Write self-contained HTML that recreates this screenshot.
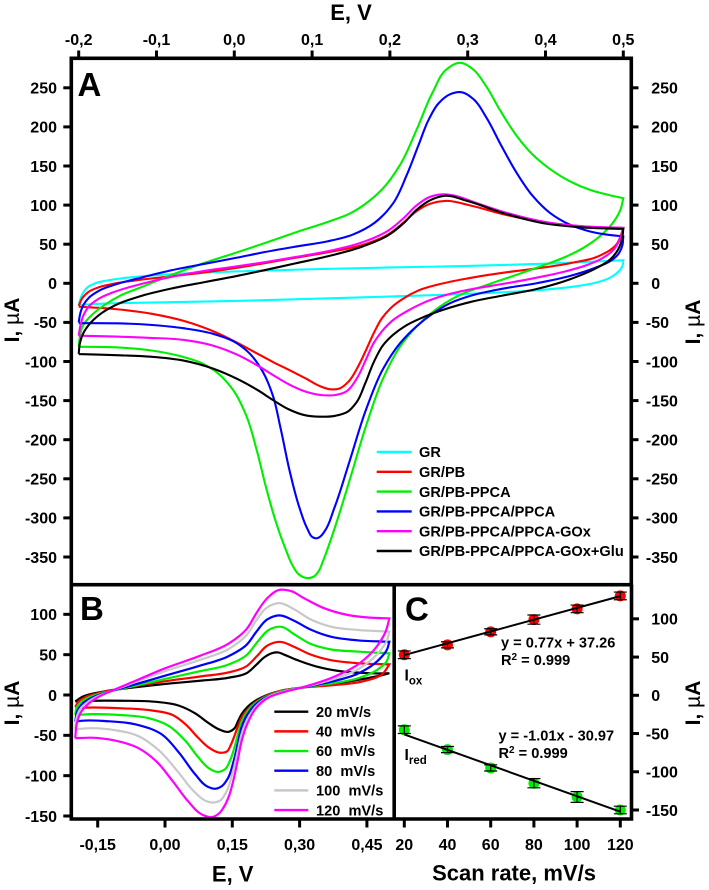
<!DOCTYPE html>
<html lang="en">
<head>
<meta charset="utf-8">
<title>Cyclic voltammetry panels</title>
<style>
html,body{margin:0;padding:0;background:#fff;}
svg{display:block;font-family:"Liberation Sans",sans-serif;font-weight:bold;fill:#000;}
</style>
</head>
<body>
<svg id="fig" width="709" height="890" viewBox="0 0 709 890" xmlns="http://www.w3.org/2000/svg">
  <rect x="0" y="0" width="709" height="890" fill="#fff"/>
  <g id="curvesA"></g>
  <g id="curvesB"></g>
  <g id="marksC"></g>
  <g id="ticks"></g>
  <g fill="none" stroke="#000" stroke-width="3.6">
    <rect x="71.3" y="58.3" width="560" height="526.4"/>
    <path d="M71.3 584.7V819H631.5V584.7"/>
    <path d="M394.2 584.7V819"/>
  </g>
  <text x="351" y="20" font-size="22" text-anchor="middle">E, V</text>
  <text transform="translate(19,320) rotate(-90)" font-size="21" text-anchor="middle">I, <tspan font-weight="normal">µ</tspan>A</text>
  <text transform="translate(700,322) rotate(-90)" font-size="21" text-anchor="middle">I, <tspan font-weight="normal">µ</tspan>A</text>
  <text transform="translate(19,703) rotate(-90)" font-size="21" text-anchor="middle">I, <tspan font-weight="normal">µ</tspan>A</text>
  <text transform="translate(700,703) rotate(-90)" font-size="21" text-anchor="middle">I, <tspan font-weight="normal">µ</tspan>A</text>
  <text x="232.7" y="881.5" font-size="22" text-anchor="middle">E, V</text>
  <text x="514" y="880.5" font-size="22" text-anchor="middle">Scan rate, mV/s</text>
  <text x="77.5" y="96" font-size="33">A</text>
  <text x="80" y="620" font-size="33">B</text>
  <text x="405" y="620.5" font-size="33">C</text>
  <g font-size="14.6">
    <text x="501" y="647.5">y = 0.77x + 37.26</text>
    <text x="501" y="665">R<tspan dy="-5" font-size="10">2</tspan><tspan dy="5"> = 0.999</tspan></text>
    <text x="498.5" y="740.5">y = -1.01x - 30.97</text>
    <text x="498.5" y="758">R<tspan dy="-5" font-size="10">2</tspan><tspan dy="5"> = 0.999</tspan></text>
    <text x="404.5" y="680.5" font-size="15.6">I<tspan dy="4" font-size="11.5">ox</tspan></text>
    <text x="404.5" y="760" font-size="15.6">I<tspan dy="4" font-size="11.5">red</tspan></text>
  </g>
  <g id="legendA" font-size="14.6"></g>
  <g id="legendB" font-size="14.6"></g>
</svg>
<script>
// ---------- Panel A data (E in V, I in uA) ----------
const xTicksA = [-0.2,-0.1,0,0.1,0.2,0.3,0.4,0.5];
const yTicksA = [250,200,150,100,50,0,-50,-100,-150,-200,-250,-300,-350];

const a1FwdE = [-0.2,-0.196,-0.187,-0.179,-0.166,-0.144,-0.102,-0.037,0.005,0.1,0.2,0.3,0.4,0.5];
const a1FwdI = [-27.7,-12.8,-4.3,0,3,6.4,10.6,13.6,15.3,18,20.5,22,25,29.5];
const a1RevE = [0.5,0.4995,0.4935,0.483,0.466,0.431,0.389,0.324,0.2,0.1,0.007,-0.08,-0.166,-0.2];
const a1RevI = [29.5,22,15,7.2,0.8,-5,-8.6,-12.8,-17,-19.5,-22.8,-24,-25.6,-27.7];

const a2FwdE = [-0.2,-0.196,-0.187,-0.174,-0.153,-0.123,-0.08,-0.037,0.005,0.037,0.08,0.123,0.166,0.2,0.217,0.234,0.251,0.273,0.3,0.35,0.4,0.45,0.5];
const a2FwdI = [-29,-19,-10.6,-5,0,4.3,9,14,20,25.6,33,40.5,49,61.8,78.9,91.6,101.4,106.5,100,87,77.5,72.4,70];
const a2RevE = [0.5,0.491,0.474,0.431,0.389,0.346,0.303,0.26,0.238,0.217,0.2,0.19,0.18,0.17,0.159,0.146,0.136,0.123,0.11,0.093,0.07,0.05,0.029,0.007,-0.027,-0.061,-0.108,-0.151,-0.2];
const a2RevI = [70,49,36,25.6,19,13.6,7.2,-2.2,-8.6,-19.2,-33,-44,-62,-84,-106.6,-128,-133.4,-136,-132,-121.5,-110.8,-101,-89.5,-78,-61,-49,-38.4,-33,-30];

const a3FwdE = [-0.2,-0.198,-0.194,-0.187,-0.166,-0.144,-0.123,-0.08,-0.037,0.005,0.037,0.08,0.123,0.149,0.166,0.1915,0.213,0.234,0.256,0.273,0.29,0.307,0.324,0.341,0.363,0.384,0.405,0.431,0.457,0.482,0.5];
const a3FwdI = [-81,-64,-53,-45,-25.6,-15,-6.4,10.6,27.7,39,51,66,79,89.6,100,121.6,149,196,247,275,281.4,275,251.5,222,187.6,164,147,130,119.5,113,108.8];
const a3RevE = [0.5,0.4975,0.487,0.47,0.448,0.427,0.397,0.363,0.32,0.3,0.277,0.256,0.234,0.213,0.1915,0.17,0.149,0.127,0.114,0.108,0.1035,0.093,0.082,0.075,0.067,0.054,0.041,0.029,0.016,-0.001,-0.023,-0.044,-0.066,-0.108,-0.151,-0.2];
const a3RevI = [108.8,96,77,60,45,34,23,11,-4,-10.5,-21.4,-36,-55.5,-81,-119.4,-179,-251,-319.6,-355,-368,-374,-378,-372,-360,-343,-307,-264,-213,-170,-136,-113,-102,-94,-85,-82,-81];

const a4FwdE = [-0.2,-0.198,-0.194,-0.187,-0.174,-0.153,-0.123,-0.08,-0.037,0.005,0.037,0.08,0.123,0.149,0.183,0.204,0.221,0.238,0.25,0.262,0.277,0.292,0.307,0.324,0.341,0.363,0.384,0.405,0.431,0.457,0.482,0.5];
const a4FwdI = [-50,-38,-27.7,-19,-8.5,-2,6.4,17,25.6,32,40.5,47,54,62,77,102.4,136.5,180,210,230,242,244,237,213,179,141,111,90,75,66,62,60];
const a4RevE = [0.5,0.4995,0.493,0.483,0.466,0.431,0.389,0.346,0.303,0.277,0.256,0.234,0.213,0.191,0.17,0.149,0.127,0.116,0.11,0.1056,0.1,0.095,0.084,0.071,0.0585,0.05,0.037,0.02,-0.001,-0.027,-0.066,-0.108,-0.151,-0.2];
const a4RevI = [60,49,36,28.5,21,8.5,0,-6.4,-15.5,-26,-38,-55.5,-76.8,-108.7,-157.7,-226,-294,-316,-324,-326,-324,-316,-288,-243,-179,-145,-113,-89.5,-74.6,-64,-57.6,-53,-51,-51];

const a5FwdE = [-0.2,-0.198,-0.194,-0.187,-0.174,-0.153,-0.123,-0.08,-0.037,0.005,0.037,0.08,0.123,0.166,0.2,0.217,0.234,0.251,0.268,0.285,0.303,0.35,0.4,0.45,0.5];
const a5FwdI = [-67,-55.4,-40.5,-30,-19,-10.6,-2,9,16,22,26.5,34,41.8,52,68,83,100,110.8,114,111.6,105.7,89.6,77.7,72.6,71];
const a5RevE = [0.5,0.4956,0.487,0.474,0.453,0.431,0.389,0.346,0.303,0.268,0.243,0.221,0.204,0.191,0.179,0.17,0.157,0.144,0.1315,0.114,0.093,0.07,0.05,0.029,0.007,-0.027,-0.066,-0.108,-0.151,-0.2];
const a5RevI = [71,55,42.6,32,23.4,17,6.4,0,-8.5,-15,-25.6,-36,-47,-59.7,-76.8,-94,-125.8,-137.7,-142,-144,-138.5,-130,-117,-104.4,-93.8,-78,-72.5,-70,-68,-67];

const a6FwdE = [-0.2,-0.199,-0.194,-0.187,-0.174,-0.153,-0.123,-0.08,-0.037,0.005,0.037,0.08,0.123,0.166,0.2,0.217,0.234,0.251,0.273,0.294,0.35,0.4,0.45,0.5];
const a6FwdI = [-90.3,-76.7,-64,-53.3,-40.5,-27.7,-17,-6.4,2,9,17,25.6,35.4,47,61.8,76.7,93.8,106.5,112,107.4,87.5,76,71.3,69.6];
const a6RevE = [0.5,0.499,0.493,0.483,0.466,0.431,0.389,0.346,0.303,0.27,0.24,0.22,0.204,0.191,0.18,0.168,0.157,0.146,0.1315,0.11,0.089,0.07,0.05,0.029,0.007,-0.027,-0.066,-0.108,-0.151,-0.2];
const a6RevI = [69.6,57.5,42.6,29.8,20.4,4.2,-7.7,-15,-24,-33,-45,-54,-66,-80,-97,-130,-153,-164,-169,-171,-168,-162,-149,-136,-124,-108.7,-98,-94,-92,-90.5];

const legendNamesA = ['GR','GR/PB','GR/PB-PPCA','GR/PB-PPCA/PPCA','GR/PB-PPCA/PPCA-GOx','GR/PB-PPCA/PPCA-GOx+Glu'];

// ---------- Panel B data ----------
const xTicksB = [-0.15,0,0.15,0.30,0.45];
const yTicksB = [100,50,0,-50,-100,-150];

const b1FwdE = [-0.2,-0.185,-0.163,-0.133,-0.118,-0.07,0.0156,0.078,0.149,0.182,0.204,0.219,0.2415,0.253,0.264,0.293,0.338,0.383,0.442,0.494,0.5];
const b1FwdI = [-8,-2,1.5,4.5,6,9.5,14.5,18,21.5,27,37,47.6,52,52.6,50.5,43.5,35,30,27,27,27];
const b1RevE = [0.5,0.487,0.45,0.375,0.3,0.264,0.227,0.205,0.182,0.172,0.163,0.153,0.145,0.12,0.097,0.0676,0.03,-0.021,-0.096,-0.17,-0.2];
const b1RevI = [27,25,20.8,13.7,9,6.3,0,-6,-15,-23,-32,-42,-46,-43,-35,-22.7,-12.4,-8.2,-7.4,-7,-8];

const b2FwdE = [-0.2,-0.194,-0.178,-0.155,-0.118,-0.07,0.0156,0.078,0.145,0.182,0.204,0.227,0.256,0.286,0.323,0.368,0.427,0.5];
const b2FwdI = [-15,-8,-3,1.5,6,10.5,18.6,23,28,35,47.6,62,67,60,49.7,43.5,39,38];
const b2RevE = [0.5,0.487,0.45,0.375,0.3,0.264,0.227,0.205,0.182,0.172,0.163,0.155,0.147,0.137,0.126,0.097,0.075,0.045,0.0156,-0.021,-0.096,-0.17,-0.2];
const b2RevI = [38,27,16.6,12.5,9,5.5,0,-8,-18.5,-27,-38,-50,-62,-70,-72,-66,-53.7,-35,-24.8,-19.4,-16.5,-15.3,-16];

const b3FwdE = [-0.2,-0.198,-0.189,-0.17,-0.148,-0.118,-0.059,0,0.078,0.145,0.182,0.204,0.234,0.26,0.286,0.323,0.368,0.427,0.5];
const b3FwdI = [-25,-16.5,-9,-3,1,5.5,12,20,30,38,47.6,66,82.7,84.8,76.5,62,57,53.8,51.7];
const b3RevE = [0.5,0.498,0.472,0.435,0.375,0.3,0.264,0.227,0.205,0.182,0.172,0.163,0.155,0.145,0.133,0.12,0.097,0.075,0.045,0.008,-0.036,-0.096,-0.17,-0.2];
const b3RevI = [51.7,43.5,31,20.8,14.6,9,5,-1,-9,-20.5,-32,-47,-65,-82,-92,-95.8,-91,-78.4,-56,-37,-29,-24.8,-23.5,-24.8];

const b4FwdE = [-0.2,-0.196,-0.185,-0.163,-0.148,-0.118,-0.059,0,0.078,0.145,0.182,0.204,0.227,0.256,0.286,0.323,0.368,0.427,0.5];
const b4FwdI = [-33,-20.6,-10,-4,0,5.5,14,24,37,47.6,62,78.6,95,99,93,80.6,72.4,67.4,66];
const b4RevE = [0.5,0.498,0.472,0.435,0.375,0.3,0.264,0.227,0.205,0.182,0.172,0.163,0.152,0.14,0.127,0.112,0.097,0.0676,0.03,-0.007,-0.059,-0.133,-0.19,-0.2];
const b4RevI = [66,58,41.4,27,16.6,9,4.3,-2,-10,-25,-38,-58,-85,-104,-113,-115.6,-114,-101,-70,-47.5,-37,-32,-32,-33];

const b5FwdE = [-0.2,-0.197,-0.189,-0.17,-0.148,-0.118,-0.059,-0.007,0.078,0.145,0.182,0.204,0.227,0.256,0.286,0.323,0.368,0.427,0.5];
const b5FwdI = [-42.5,-27,-16.5,-8,-1,5.5,16.5,29,44,56,74.4,93,109.6,114.5,107.5,93,84.8,80.6,78.6];
const b5RevE = [0.5,0.498,0.472,0.435,0.375,0.3,0.264,0.227,0.205,0.182,0.172,0.163,0.149,0.136,0.122,0.108,0.09,0.0676,0.03,-0.0141,-0.059,-0.11,-0.17,-0.2];
const b5RevI = [78.6,70,49.7,33,18.7,9,4.3,-2.8,-12.3,-31,-46,-68,-100,-122,-131,-133,-131,-122,-97,-66,-51.6,-43,-41,-42.5];

const b6FwdE = [-0.2,-0.197,-0.188,-0.17,-0.148,-0.118,-0.059,-0.007,0.078,0.145,0.182,0.204,0.227,0.256,0.279,0.308,0.353,0.405,0.457,0.5];
const b6FwdI = [-53.7,-35,-21,-11,-2,5.4,18.6,32,49.7,62,82.7,101,122,130,130,120,107.5,99,96,95];
const b6RevE = [0.5,0.494,0.472,0.435,0.375,0.3,0.264,0.227,0.205,0.182,0.172,0.163,0.152,0.142,0.132,0.12,0.1048,0.0825,0.0528,0.0156,-0.0216,-0.059,-0.11,-0.17,-0.2];
const b6RevI = [95,80.6,60,39.4,20.8,9,3.4,-4,-14,-37,-55,-78,-108,-126,-138,-147,-151.5,-148.6,-134,-105,-80.5,-66,-55.7,-52.8,-53.7];

const legendNamesB = ['20 mV/s','40  mV/s','60  mV/s','80  mV/s','100  mV/s','120  mV/s'];

// ---------- Panel C data ----------
const scanRates = [20,40,60,80,100,120];
const oxPeak = [53,66,83,99,113,130];
const oxError = [5,4,4,6,5,5];
const redPeak = [-45,-71,-95,-115,-133,-150];
const redError = [5,4,4,6,7,5];
const oxFitSlope = [0.77];
const oxFitIntercept = [37.26];
const redFitSlope = [-1.01];
const redFitIntercept = [-30.97];
const yTicksC = [100,50,0,-50,-100,-150];

// ---------- Axis functions ----------
const SVGNS = 'http://www.w3.org/2000/svg';
const xA = e => 234.3 + 778 * e;
const yA = i => 283.3 - 0.782 * i;
const xB = e => 165 + 448.7 * e;
const yB = i => 695 - 0.8067 * i;
const xC = r => 404.3 + 2.16 * (r - 20);
const yC = i => 695.3 - 0.7647 * i;

const colorsA = ['#00ffff','#ff0000','#00ee00','#0000ff','#ff00ff','#000000'];
const colorsB = ['#000000','#ff0000','#00ee00','#0000ff','#c8c8c8','#ff00ff'];
const branchesA = [[a1FwdE,a1FwdI,a1RevE,a1RevI],[a2FwdE,a2FwdI,a2RevE,a2RevI],[a3FwdE,a3FwdI,a3RevE,a3RevI],[a4FwdE,a4FwdI,a4RevE,a4RevI],[a5FwdE,a5FwdI,a5RevE,a5RevI],[a6FwdE,a6FwdI,a6RevE,a6RevI]];
const branchesB = [[b1FwdE,b1FwdI,b1RevE,b1RevI],[b2FwdE,b2FwdI,b2RevE,b2RevI],[b3FwdE,b3FwdI,b3RevE,b3RevI],[b4FwdE,b4FwdI,b4RevE,b4RevI],[b5FwdE,b5FwdI,b5RevE,b5RevI],[b6FwdE,b6FwdI,b6RevE,b6RevI]];

function node(tag, attrs, parent) {
  const el = document.createElementNS(SVGNS, tag);
  for (const k in attrs) el.setAttribute(k, attrs[k]);
  parent.appendChild(el);
  return el;
}

// One low-pass / re-inflate pass so reading noise does not show as kinks.
function relax(p, w) {
  return p.map((q, n) => {
    if (n === 0 || n === p.length - 1) return q;
    return [q[0] + w * ((p[n - 1][0] + p[n + 1][0]) / 2 - q[0]), q[1] + w * ((p[n - 1][1] + p[n + 1][1]) / 2 - q[1])];
  });
}

// Smooth path through the measured points, tangents weighted toward the nearer neighbour.
function smooth(es, is, fx, fy, first) {
  let p = es.map((e, n) => [fx(e), fy(is[n])]);
  p = relax(relax(p, 0.55), -0.5);
  const tan = p.map((q, n) => {
    if (n === 0 || n === p.length - 1) {
      const o = n === 0 ? p[1] : p[n - 1];
      const s = n === 0 ? 1 : -1;
      const l = Math.hypot(o[0] - q[0], o[1] - q[1]) || 1;
      return [s * (o[0] - q[0]) / l, s * (o[1] - q[1]) / l];
    }
    const a = p[n - 1], b = p[n + 1];
    const l1 = Math.hypot(q[0] - a[0], q[1] - a[1]) || 1;
    const l2 = Math.hypot(b[0] - q[0], b[1] - q[1]) || 1;
    const dx = (q[0] - a[0]) * l2 / l1 + (b[0] - q[0]) * l1 / l2;
    const dy = (q[1] - a[1]) * l2 / l1 + (b[1] - q[1]) * l1 / l2;
    const l = Math.hypot(dx, dy) || 1;
    return [dx / l, dy / l];
  });
  let d = first ? 'M' + p[0][0].toFixed(2) + ' ' + p[0][1].toFixed(2) : '';
  for (let n = 0; n < p.length - 1; n++) {
    const c = Math.hypot(p[n + 1][0] - p[n][0], p[n + 1][1] - p[n][1]) / 3;
    d += 'C' + (p[n][0] + tan[n][0] * c).toFixed(2) + ' ' + (p[n][1] + tan[n][1] * c).toFixed(2) + ' '
      + (p[n + 1][0] - tan[n + 1][0] * c).toFixed(2) + ' ' + (p[n + 1][1] - tan[n + 1][1] * c).toFixed(2) + ' '
      + p[n + 1][0].toFixed(2) + ' ' + p[n + 1][1].toFixed(2);
  }
  return d;
}

const gA = document.getElementById('curvesA');
branchesA.forEach((b, n) => {
  const el = node('path', {d: smooth(b[0], b[1], xA, yA, true) + smooth(b[2], b[3], xA, yA, false), fill: 'none', stroke: colorsA[n], 'stroke-width': 2.1, 'stroke-linejoin': 'miter'}, gA);
  
  
});

const gB = document.getElementById('curvesB');
branchesB.forEach((b, n) => {
  const el = node('path', {d: smooth(b[0], b[1], xB, yB, true) + smooth(b[2], b[3], xB, yB, false), fill: 'none', stroke: colorsB[n], 'stroke-width': 2.2}, gB);
  
  
});

// Panel C marks
const gC = document.getElementById('marksC');
function fitLine(slope, intercept) {
  const r0 = scanRates[0], r1 = scanRates[scanRates.length - 1];
  const el = node('line', {x1: xC(r0), y1: yC(slope * r0 + intercept), x2: xC(r1), y2: yC(slope * r1 + intercept), stroke: '#000', 'stroke-width': 2}, gC);
  
  
}
function scatter(values, errors, color) {
  values.forEach((v, n) => {
    const cx = xC(scanRates[n]);
    const dot = node('circle', {cx: cx, cy: yC(v), r: 5.5, fill: color}, gC);
    
    
    const t = yC(v + errors[n]), b = yC(v - errors[n]);
    const bar = node('path', {d: 'M' + (cx - 6.5) + ' ' + t + 'H' + (cx + 6.5) + 'M' + (cx - 6.5) + ' ' + b + 'H' + (cx + 6.5) + 'M' + cx + ' ' + t + 'V' + b, fill: 'none', stroke: '#000', 'stroke-width': 1.2}, gC);
    
    
  });
}
scatter(oxPeak, oxError, '#ff0000');
scatter(redPeak, redError, '#00ee00');
fitLine(oxFitSlope[0], oxFitIntercept[0]);
fitLine(redFitSlope[0], redFitIntercept[0]);

// Ticks and tick labels
const gT = document.getElementById('ticks');
function tickMark(x1, y1, x2, y2) {
  const el = node('line', {x1: x1, y1: y1, x2: x2, y2: y2, stroke: '#000', 'stroke-width': 3}, gT);
  
  
}
function tickLabel(x, y, txt, anchor) {
  const el = node('text', {x: x, y: y, 'font-size': 16, 'text-anchor': anchor}, gT);
  el.textContent = txt;
  
  
}
function rightLabel(y, v) {
  tickLabel(v < 0 ? 645.9 : 651.2, y + 5.8, String(v), 'start');
}
xTicksA.forEach(v => {
  tickMark(xA(v), 50.5, xA(v), 58);
  tickLabel(xA(v), 45, v.toFixed(1).replace('.', ','), 'middle');
});
yTicksA.forEach(v => {
  tickMark(63.3, yA(v), 71, yA(v));
  tickMark(632, yA(v), 638.5, yA(v));
  tickLabel(57, yA(v) + 5.8, String(v), 'end');
  rightLabel(yA(v), v);
});
xTicksB.forEach(v => {
  tickMark(xB(v), 820, xB(v), 827.5);
  tickLabel(xB(v), 850, v.toFixed(2).replace('.', ','), 'middle');
});
yTicksB.forEach(v => {
  tickMark(63.3, yB(v), 71, yB(v));
  tickLabel(57, yB(v) + 5.8, String(v), 'end');
});
scanRates.forEach(v => {
  tickMark(xC(v), 820, xC(v), 827.5);
  tickLabel(xC(v), 850, String(v), 'middle');
});
yTicksC.forEach(v => {
  tickMark(632, yC(v), 639, yC(v));
  rightLabel(yC(v), v);
});

// Legends
const gLA = document.getElementById('legendA');
legendNamesA.forEach((name, n) => {
  const y = 452 + 19.8 * n;
  const ln = node('line', {x1: 376.7, y1: y, x2: 411.7, y2: y, stroke: colorsA[n], 'stroke-width': 2.4}, gLA);
  
  
  const tx = node('text', {x: 419, y: y + 5.2}, gLA);
  tx.textContent = name;
  
  
});
const gLB = document.getElementById('legendB');
legendNamesB.forEach((name, n) => {
  const y = 711.7 + 19.67 * n;
  const ln = node('line', {x1: 274.3, y1: y, x2: 308.3, y2: y, stroke: colorsB[n], 'stroke-width': 2.4}, gLB);
  
  
  const tx = node('text', {x: 316, y: y + 5.2}, gLB);
  tx.style.whiteSpace = 'pre';
  tx.textContent = name;
  
  
});
</script>
</body>
</html>
